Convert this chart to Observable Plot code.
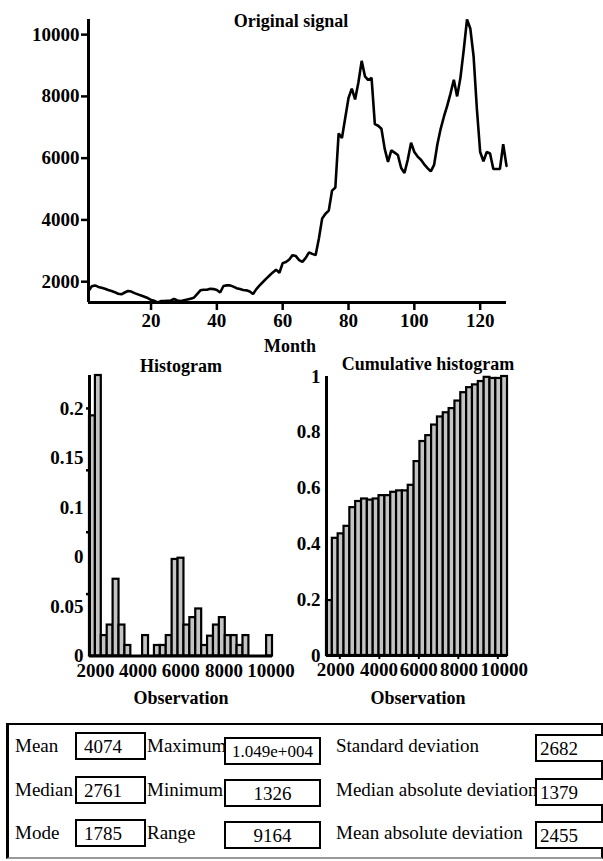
<!DOCTYPE html>
<html>
<head>
<meta charset="utf-8">
<script src="https://cdn.jsdelivr.net/npm/d3@7"></script>
<script src="https://cdn.jsdelivr.net/npm/@observablehq/plot@0.6"></script>
<style>
  html, body { margin: 0; padding: 0; background: #fff; }
  #root { position: relative; width: 603px; height: 861px; overflow: hidden; background: #fff;
          font-family: "Liberation Serif", "Times New Roman", serif; color: #000; }
  .abs { position: absolute; }
  .lbl { position: absolute; white-space: nowrap; line-height: 1; transform: translate(-50%, -50%); font-weight: bold; font-size: 18px; }
  .stat { position: absolute; white-space: nowrap; line-height: 1; font-size: 19px; transform: translateY(-50%); }
  .vbox { position: absolute; box-sizing: border-box; border: 2px solid #000; background: #fff;
          font-size: 19px; line-height: 1; display: flex; align-items: center; white-space: nowrap; overflow: hidden; }
</style>
</head>
<body>
<div id="root"></div>
<script>
// ---------------- data ----------------
const signal = [
  1700, 1850, 1880, 1830, 1800, 1770, 1730, 1700, 1660, 1610,
  1590, 1650, 1700, 1680, 1630, 1590, 1550, 1510, 1470, 1410,
  1380, 1326, 1370, 1370, 1380, 1390, 1440, 1390, 1370, 1400,
  1420, 1450, 1480, 1600, 1720, 1740, 1740, 1770, 1760, 1730,
  1650, 1860, 1880, 1880, 1840, 1790, 1760, 1730, 1720, 1680,
  1600, 1760, 1880, 1990, 2100, 2200, 2300, 2390, 2290, 2600,
  2640, 2720, 2860, 2830, 2700, 2640, 2770, 2950, 2900, 2860,
  3400, 4050, 4200, 4300, 4950, 5050, 6800, 6650, 7300, 7950,
  8250, 7900, 8450, 9150, 8650, 8530, 8600, 7100, 7050, 6950,
  6300, 5880, 6250, 6180, 6100, 5680, 5520, 5950, 6500, 6200,
  6050, 5950, 5800, 5680, 5570, 5780, 6450, 6950, 7350, 7700,
  8100, 8540, 8000, 8600, 9500, 10490, 10200, 9300, 7600, 6200,
  5900, 6200, 6150, 5650, 5650, 5650, 6450, 5750
];
const monthTicks = [20, 40, 60, 80, 100, 120];
const signalTicks = [2000, 4000, 6000, 8000, 10000];

const binEdges = [1326, 1622, 1917, 2213, 2508, 2804, 3100, 3395, 3691, 3986, 4282,
  4578, 4873, 5169, 5465, 5760, 6056, 6351, 6647, 6943, 7238, 7534, 7829, 8125,
  8421, 8716, 9012, 9308, 9603, 9899, 10194, 10490];
const histFreq = [0.194, 0.2266, 0.0165, 0.025, 0.062, 0.025, 0.0085, 0, 0, 0.0165,
  0, 0.0085, 0.0085, 0.0165, 0.078, 0.079, 0.025, 0.031, 0.038, 0.0085,
  0.016, 0.025, 0.031, 0.0165, 0.0165, 0.0085, 0.0165, 0, 0, 0, 0.0165];
const cumFreq = [0.197, 0.42, 0.436, 0.463, 0.53, 0.552, 0.561, 0.557, 0.561, 0.573,
  0.573, 0.585, 0.59, 0.59, 0.61, 0.695, 0.767, 0.788, 0.826, 0.855,
  0.87, 0.885, 0.912, 0.942, 0.96, 0.97, 0.982, 0.997, 0.993, 0.993, 1.0];

const obsTicks = [2000, 4000, 6000, 8000, 10000];
const obsLabels = ["2000", "4000", "6000", "8000", "10000"];
const histXLabelPos = [1630, 3750, 5900, 8060, 10420];
const cumXLabelPos = [1800, 3990, 6000, 8030, 10330];
const histTickMarks = [0.05, 0.1, 0.15, 0.2];
const histLabelPos = [0, 0.04, 0.08, 0.12, 0.16, 0.2];
const histLabelText = ["0", "0.05", "0", "0.1", "0.15", "0.2"];
const cumTicks = [0, 0.2, 0.4, 0.6, 0.8, 1];

const statNames = ["Mean", "Median", "Mode", "Maximum", "Minimum", "Range",
  "Standard deviation", "Median absolute deviation", "Mean absolute deviation"];
const statValues = ["4074", "2761", "1785", "1.049e+004", "1326", "9164", "2682", "1379", "2455"];

// ---------------- layout ----------------
const root = document.getElementById("root");
const font = {fontFamily: "'Liberation Serif', 'Times New Roman', serif", fontSize: "19px", fontWeight: "bold", color: "#000", background: "transparent", overflow: "visible"};
const AX = 3;

function place(svg, left, topPx) {
  svg.style.position = "absolute";
  svg.style.left = left + "px";
  svg.style.top = topPx + "px";
  root.appendChild(svg);
}
function label(text, cx, cy, size) {
  const d = document.createElement("div");
  d.className = "lbl";
  d.textContent = text;
  d.style.left = cx + "px";
  d.style.top = cy + "px";
  if (size) d.style.fontSize = size + "px";
  root.appendChild(d);
}

// ---- original signal ----
const yMin = 1326, yMax = 10490;
const signalChart = Plot.plot({
  width: 603, height: 360,
  marginLeft: 88, marginRight: 97, marginTop: 19, marginBottom: 58,
  style: font,
  x: {domain: [1, 128]},
  y: {domain: [yMin, yMax]},
  marks: [
    Plot.line(signal, {x: (d, i) => i + 1, y: d => d, stroke: "#000", strokeWidth: 2.6, strokeLinejoin: "miter"}),
    Plot.ruleX([1], {stroke: "#000", strokeWidth: AX}),
    Plot.ruleY([yMin], {stroke: "#000", strokeWidth: AX}),
    Plot.axisY(signalTicks, {tickSize: 7, tickPadding: 2, strokeWidth: 2.5, tickFormat: d => String(d), label: null}),
    Plot.axisX(monthTicks, {tickSize: 8, tickPadding: 3, strokeWidth: 2.5, tickFormat: d => String(d), label: null})
  ]
});
place(signalChart, 0, 0);
label("Original signal", 291, 21);
label("Month", 290, 346);

// ---- histogram ----
const xDom = [1326, 10490];
const histChart = Plot.plot({
  width: 300, height: 345,
  marginLeft: 89, marginRight: 28, marginTop: 20, marginBottom: 44.5,
  style: font,
  x: {domain: xDom},
  y: {domain: [0, 0.2266]},
  marks: [
    Plot.rectY(histFreq, {x1: (d, i) => binEdges[i], x2: (d, i) => binEdges[i + 1], y: d => d,
      fill: "#c4c4c4", stroke: "#000", strokeWidth: 2.2}),
    Plot.ruleX([xDom[0]], {stroke: "#000", strokeWidth: AX}),
    Plot.ruleY([0], {stroke: "#000", strokeWidth: AX}),
    Plot.axisY(histTickMarks, {tickSize: 3, strokeWidth: 2.5, tickFormat: () => "", label: null}),
    Plot.axisY(histLabelPos, {tickSize: 0, tickPadding: 6, tickFormat: (d, i) => histLabelText[i], label: null}),
    Plot.axisX(histXLabelPos, {tickSize: 0, tickPadding: 7, tickFormat: (d, i) => obsLabels[i], label: null})
  ]
});
place(histChart, 0, 355);
label("Histogram", 181, 366);
label("Observation", 181, 698);

// ---- cumulative histogram ----
const cumChart = Plot.plot({
  width: 333, height: 345,
  marginLeft: 56, marginRight: 96, marginTop: 21, marginBottom: 45,
  style: font,
  x: {domain: xDom},
  y: {domain: [0, 1.0]},
  marks: [
    Plot.rectY(cumFreq, {x1: (d, i) => binEdges[i], x2: (d, i) => binEdges[i + 1], y: d => d,
      fill: "#c4c4c4", stroke: "#000", strokeWidth: 2.2}),
    Plot.ruleX([xDom[0]], {stroke: "#000", strokeWidth: AX}),
    Plot.ruleY([0], {stroke: "#000", strokeWidth: AX}),
    Plot.axisY(cumTicks, {tickSize: 0, tickPadding: 6, tickFormat: d => String(d), label: null}),
    Plot.axisX(obsTicks, {tickSize: 4, strokeWidth: 2, tickFormat: () => "", label: null}),
    Plot.axisX(cumXLabelPos, {tickSize: 0, tickPadding: 7, tickFormat: (d, i) => obsLabels[i], label: null})
  ]
});
place(cumChart, 270, 355);
label("Cumulative histogram", 428, 364);
label("Observation", 418, 698);

// ---- statistics panel ----
const panel = document.createElement("div");
panel.className = "abs";
Object.assign(panel.style, {left: "6px", top: "723px", width: "597px", height: "136px",
  boxSizing: "border-box", borderTop: "2px solid #000", borderLeft: "3px solid #000",
  borderRight: "2px solid #000", borderBottom: "2px solid #999"});
root.appendChild(panel);

const rowsY = [747, 791, 834];
const nameX = [15, 147, 336];
const boxX = [[75, 146], [224, 321], [535, 606]];
const boxTopOff = [[-15, -15, -15], [-10, -12, -13], [-13, -13, -13]];
const boxAlign = ["flex-start", "center", "flex-start"];
for (let c = 0; c < 3; c++) {
  for (let r = 0; r < 3; r++) {
    const k = c * 3 + r;
    const nm = document.createElement("div");
    nm.className = "stat";
    nm.textContent = statNames[k];
    nm.style.left = nameX[c] + "px";
    nm.style.top = (rowsY[r] - 2) + "px";
    root.appendChild(nm);
  }
}
for (let c = 0; c < 3; c++) {
  for (let r = 0; r < 3; r++) {
    const k = c * 3 + r;
    const bx = document.createElement("div");
    bx.className = "vbox";
    const t = rowsY[r] + boxTopOff[c][r];
    Object.assign(bx.style, {left: boxX[c][0] + "px", top: t + "px",
      width: (boxX[c][1] - boxX[c][0]) + "px", height: "28px",
      justifyContent: boxAlign[c], paddingLeft: c === 1 ? "0" : (c === 0 ? "7px" : "3px")});
    if (c === 1 && r === 0) bx.style.fontSize = "17px";
    bx.textContent = statValues[k];
    root.appendChild(bx);
  }
}
</script>
</body>
</html>
